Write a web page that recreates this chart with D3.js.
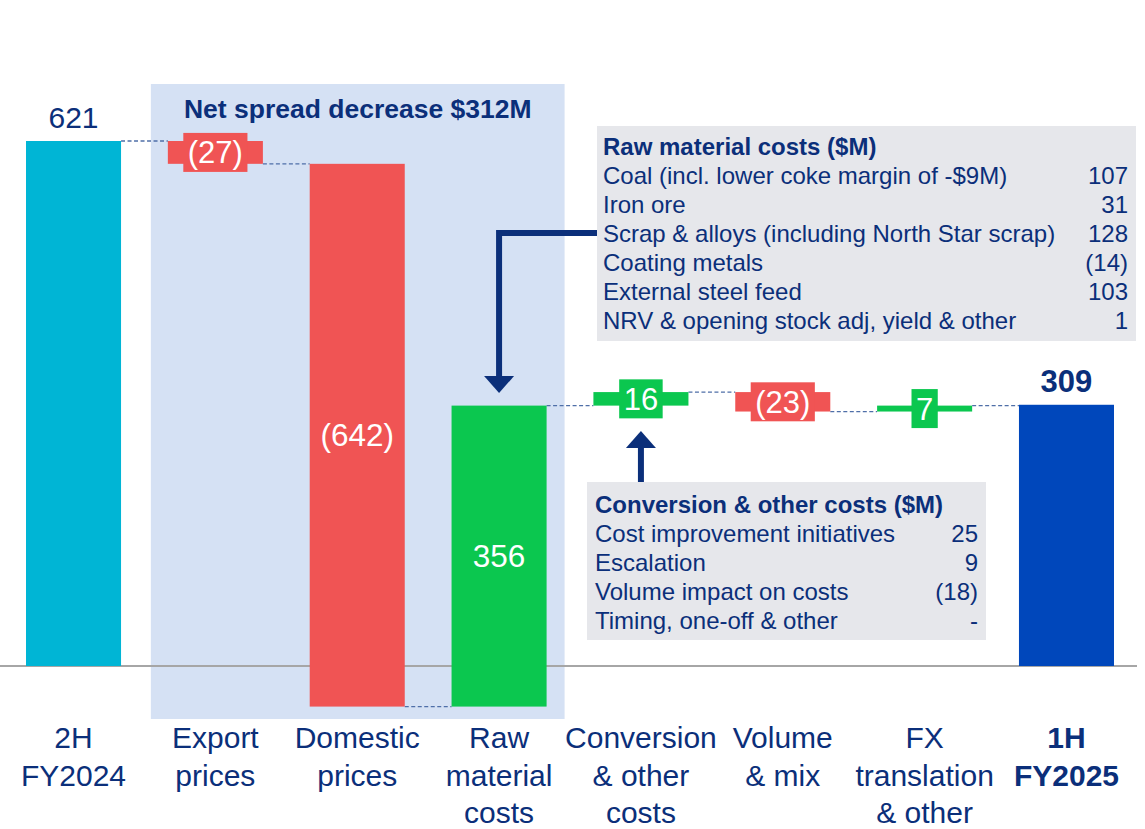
<!DOCTYPE html>
<html><head><meta charset="utf-8">
<script src="https://cdn.jsdelivr.net/npm/d3@7"></script>
<style>
html,body{margin:0;padding:0;background:#fff;}
svg{display:block;font-family:"Liberation Sans",Arial,sans-serif;}
</style></head>
<body><svg id="c" width="1145" height="829"></svg>
<script>
const categories = ["2H\nFY2024","Export\nprices","Domestic\nprices","Raw\nmaterial\ncosts","Conversion\n& other\ncosts","Volume\n& mix","FX\ntranslation\n& other","1H\nFY2025"];
const values = [621,-27,-642,356,16,-23,7,309];
const kinds = ["total","delta","delta","delta","delta","delta","delta","total"];
const valueLabels = ["621","(27)","(642)","356","16","(23)","7","309"];
const spreadTitle = "Net spread decrease $312M";
const rawTitle = "Raw material costs ($M)";
const rawItems = ["Coal (incl. lower coke margin of -$9M)","Iron ore","Scrap & alloys (including North Star scrap)","Coating metals","External steel feed","NRV & opening stock adj, yield & other"];
const rawValues = ["107","31","128","(14)","103","1"];
const convTitle = "Conversion & other costs ($M)";
const convItems = ["Cost improvement initiatives","Escalation","Volume impact on costs","Timing, one-off & other"];
const convValues = ["25","9","(18)","-"];

const NAVY = "#0b2f7a";
const C = {start:"#00b5d5", end:"#0047bb", neg:"#f05454", pos:"#0bc74f"};

const svg = d3.select("#c");
const x = d3.scaleBand().domain(d3.range(categories.length)).range([26,1114]).paddingInner(0.33).paddingOuter(0);
const y = d3.scaleLinear().domain([0,621]).range([666,141]);

// compute waterfall
let run = 0;
const bars = values.map((v,i)=>{
  let y0,y1;
  if(kinds[i]==="total"){ y0=0; y1=v; run=v; }
  else { y0=run; y1=run+v; run=y1; }
  return {i, v, y0, y1, kind:kinds[i], label:valueLabels[i]};
});

// shaded spread region (Export..Raw material)
const shX0 = x(1) - 17;
const shX1 = x(3) + x.bandwidth() + 18;
svg.append("rect").attr("x",shX0).attr("y",84).attr("width",shX1-shX0).attr("height",635).attr("fill","#d5e1f4");
svg.append("text").attr("x",(shX0+shX1)/2).attr("y",118).attr("text-anchor","middle")
  .attr("font-size",26.5).attr("font-weight","bold").attr("fill",NAVY).text(spreadTitle);

// baseline
svg.append("line").attr("x1",0).attr("x2",1137).attr("y1",y(0)).attr("y2",y(0)).attr("stroke","#a6a6a6").attr("stroke-width",2);

// connectors
for(let k=0;k<bars.length-1;k++){
  const lvl=bars[k].y1;
  svg.append("line").attr("x1",x(k)+x.bandwidth()).attr("x2",x(k+1))
    .attr("y1",y(lvl)).attr("y2",y(lvl))
    .attr("stroke","#4f6fa8").attr("stroke-width",1.3).attr("stroke-dasharray","4,2.5");
}

function color(b){
  if(b.kind==="total") return b.i===0?C.start:C.end;
  return b.v<0?C.neg:C.pos;
}

// bars
svg.append("g").selectAll("rect").data(bars).join("rect")
  .attr("x",d=>x(d.i)).attr("width",x.bandwidth())
  .attr("y",d=>y(Math.max(d.y0,d.y1))).attr("height",d=>Math.abs(y(d.y0)-y(d.y1)))
  .attr("fill",color);

// labels
bars.forEach(b=>{
  const cx = x(b.i)+x.bandwidth()/2;
  const top = y(Math.max(b.y0,b.y1)), bot = y(Math.min(b.y0,b.y1));
  if(b.kind==="total"){
    const bold = b.i!==0;
    svg.append("text").attr("x",cx).attr("y",top-13).attr("text-anchor","middle")
      .attr("font-size",bold?31:30).attr("font-weight",bold?"bold":"normal").attr("fill",NAVY).text(b.label);
  } else if(bot-top < 45){
    const cy=(top+bot)/2;
    const g=svg.append("g");
    const r=g.append("rect").attr("fill",color(b));
    const t=g.append("text").attr("x",cx).attr("y",cy+11).attr("text-anchor","middle")
      .attr("font-size",31).attr("fill","#fff").text(b.label);
    const w=t.node().getComputedTextLength()+9;
    r.attr("x",cx-w/2).attr("width",w).attr("y",cy-19.5).attr("height",39);
  } else {
    svg.append("text").attr("x",cx).attr("y",(top+bot)/2+11).attr("text-anchor","middle")
      .attr("font-size",31.5).attr("fill","#fff").text(b.label);
  }
});

// category labels
categories.forEach((c,i)=>{
  const cx = x(i)+x.bandwidth()/2;
  const t=svg.append("text").attr("x",cx).attr("y",748).attr("text-anchor","middle")
    .attr("font-size",30).attr("fill",NAVY).attr("font-weight",i===categories.length-1?"bold":"normal");
  c.split("\n").forEach((line,j)=>{
    t.append("tspan").attr("x",cx).attr("dy",j===0?0:37.5).text(line);
  });
});

// info boxes
function infoBox(x0,y0,w,h,title,items,vals,tx,rx,firstBase){
  svg.append("rect").attr("x",x0).attr("y",y0).attr("width",w).attr("height",h).attr("fill","#e6e7eb");
  svg.append("text").attr("x",tx).attr("y",firstBase).attr("font-size",24).attr("font-weight","bold").attr("fill",NAVY).text(title);
  items.forEach((it,k)=>{
    svg.append("text").attr("x",tx).attr("y",firstBase+29*(k+1)).attr("font-size",24).attr("fill",NAVY).text(it);
    svg.append("text").attr("x",rx).attr("y",firstBase+29*(k+1)).attr("font-size",24).attr("fill",NAVY).attr("text-anchor","end").text(vals[k]);
  });
}
infoBox(597,126,539,215,rawTitle,rawItems,rawValues,603,1128,155);
infoBox(587,482,399,158,convTitle,convItems,convValues,595,978,513);

// arrows
const arrowG = svg.append("g").attr("fill","none").attr("stroke",NAVY).attr("stroke-width",6);
const ax1 = x(3)+x.bandwidth()/2;
arrowG.append("path").attr("d",`M597,233 H${ax1} V378`);
svg.append("path").attr("d",`M${ax1-15},376 L${ax1+15},376 L${ax1},393 Z`).attr("fill",NAVY);
const ax2 = x(4)+x.bandwidth()/2;
arrowG.append("path").attr("d",`M${ax2},482 V446`);
svg.append("path").attr("d",`M${ax2-15},448 L${ax2+15},448 L${ax2},431 Z`).attr("fill",NAVY);
</script></body></html>
